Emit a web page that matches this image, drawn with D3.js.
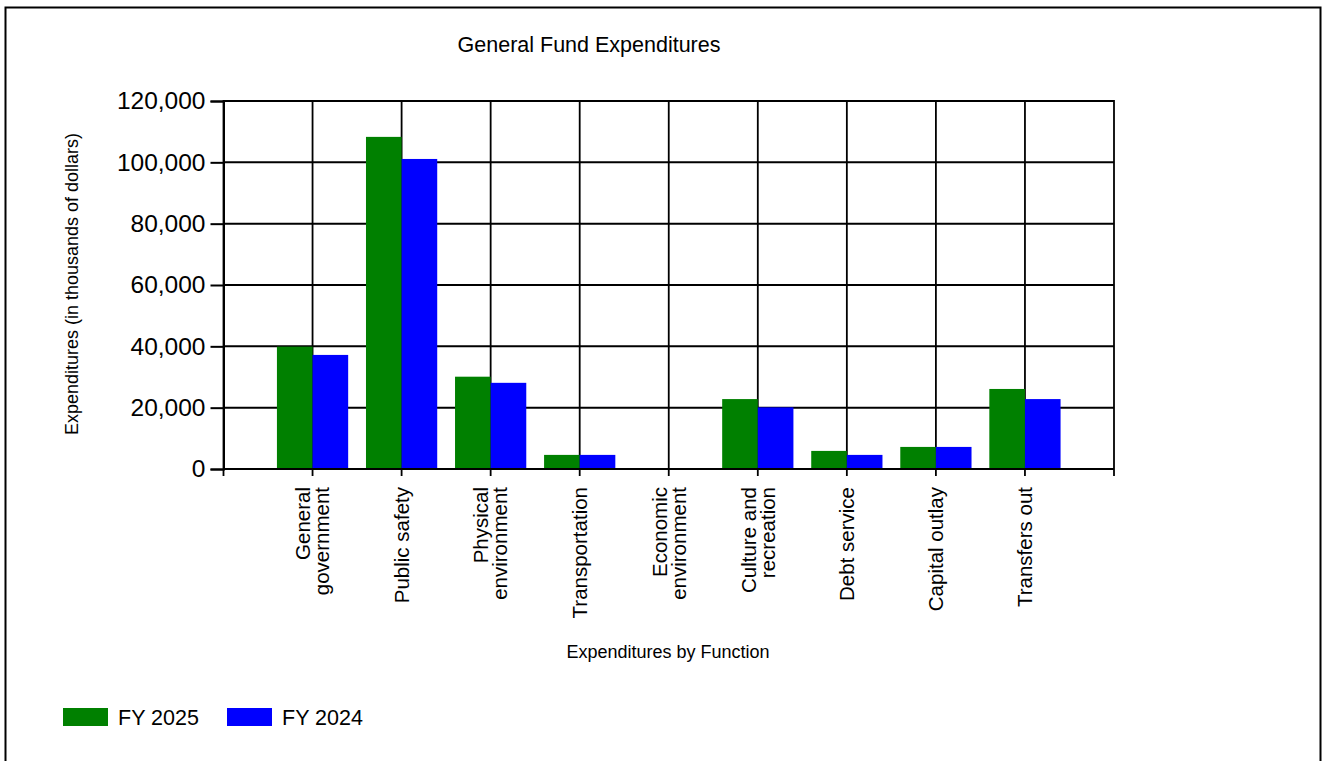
<!DOCTYPE html>
<html>
<head>
<meta charset="utf-8">
<title>General Fund Expenditures</title>
<script src="https://d3js.org/d3.v7.min.js"></script>
<style>
body { margin: 0; background: #fff; }
text { font-family: "Liberation Sans", Arial, sans-serif; fill: #000; }
</style>
</head>
<body>
<div id="chart"></div>
<script>
// data (thousands of dollars)
var categories = ["General government", "Public safety", "Physical environment", "Transportation",
                  "Economic environment", "Culture and recreation", "Debt service", "Capital outlay", "Transfers out"];
var labelLines = [["General", "government"], ["Public safety"], ["Physical", "environment"], ["Transportation"],
                  ["Economic", "environment"], ["Culture and", "recreation"], ["Debt service"], ["Capital outlay"], ["Transfers out"]];
var fy2025 = [39900, 108300, 30100, 4600, 0, 22800, 5900, 7200, 26100];
var fy2024 = [37200, 101100, 28100, 4600, 0, 20100, 4600, 7200, 22800];
var seriesNames = ["FY 2025", "FY 2024"];
var seriesColors = ["#008000", "#0000ff"];
var yTicks = [0, 20000, 40000, 60000, 80000, 100000, 120000];

// note: "top" is taken by window.top, so plot edges get their own names
var width = 1322, height = 761,
    plotL = 223.5, plotR = 1114, plotT = 101, plotB = 469;

var svg = d3.select("#chart").append("svg").attr("width", width).attr("height", height);

// outer frame
svg.append("rect").attr("x", 5.5).attr("y", 7.5).attr("width", 1315).attr("height", 760)
   .attr("fill", "none").attr("stroke", "#000").attr("stroke-width", 2);

var x = d3.scalePoint().domain(categories).range([plotL, plotR]).padding(1),
    y = d3.scaleLinear().domain([0, 120000]).range([plotB, plotT]),
    step = x.step(),
    barW = step * 0.4;

// grid: horizontal at every tick, vertical at each category centre plus edges
var vLines = [plotL].concat(categories.map(function(c) { return x(c); })).concat([plotR]);

svg.append("g").selectAll("line").data(yTicks).enter().append("line")
   .attr("x1", plotL).attr("x2", plotR)
   .attr("y1", function(d) { return y(d); }).attr("y2", function(d) { return y(d); })
   .attr("stroke", "#000").attr("stroke-width", 2);

svg.append("g").selectAll("line").data(vLines).enter().append("line")
   .attr("x1", function(d) { return d; }).attr("x2", function(d) { return d; })
   .attr("y1", plotT - 1).attr("y2", plotB + 7)
   .attr("stroke", "#000").attr("stroke-width", 1.8);

// bars
var rows = categories.map(function(c, i) { return {cat: c, vals: [fy2025[i], fy2024[i]]}; });
var grp = svg.append("g").selectAll("g").data(rows).enter().append("g");
grp.selectAll("rect").data(function(d) {
      return d.vals.map(function(v, k) { return {cat: d.cat, v: v, k: k}; });
   }).enter().append("rect")
   .attr("x", function(d) { return x(d.cat) - barW + d.k * barW; })
   .attr("y", function(d) { return y(d.v); })
   .attr("width", barW)
   .attr("height", function(d) { return plotB - y(d.v); })
   .attr("fill", function(d) { return seriesColors[d.k]; });

// baseline on top
svg.append("line").attr("x1", plotL).attr("x2", plotR).attr("y1", plotB).attr("y2", plotB)
   .attr("stroke", "#000").attr("stroke-width", 2.2);

// y axis
var yAxis = svg.append("g").attr("transform", "translate(" + plotL + ",0)")
   .call(d3.axisLeft(y).tickValues(yTicks).tickSize(13).tickPadding(5).tickFormat(d3.format(",")));
yAxis.select(".domain").attr("stroke", "#000").attr("stroke-width", 2);
yAxis.selectAll(".tick line").attr("stroke", "#000").attr("stroke-width", 2);
yAxis.selectAll(".tick text").style("font-size", "24.5px").attr("fill", "#000");

// category labels, rotated
var cap = 20.5 * 0.716, lineH = 19;
var lab = svg.append("g").selectAll("g").data(categories).enter().append("g")
   .attr("transform", function(d) { return "translate(" + x(d) + ",487) rotate(-90)"; });
lab.each(function(d, i) {
   var lines = labelLines[i], n = lines.length;
   d3.select(this).selectAll("text").data(lines).enter().append("text")
     .attr("x", 0)
     .attr("y", function(t, j) { return cap / 2 + (j - (n - 1) / 2) * lineH; })
     .attr("text-anchor", "end")
     .style("font-size", "20.5px")
     .text(function(t) { return t; });
});

// titles
svg.append("text").attr("x", 589).attr("y", 51.5).attr("text-anchor", "middle")
   .style("font-size", "21.5px").text("General Fund Expenditures");
svg.append("text").attr("x", 668).attr("y", 658).attr("text-anchor", "middle")
   .style("font-size", "18px").text("Expenditures by Function");
svg.append("text").attr("transform", "translate(78,284) rotate(-90)").attr("text-anchor", "middle")
   .style("font-size", "18px").text("Expenditures (in thousands of dollars)");

// legend
var legX = [63, 227];
var leg = svg.append("g").selectAll("g").data(seriesNames).enter().append("g")
   .attr("transform", function(d, i) { return "translate(" + legX[i] + ",708)"; });
leg.append("rect").attr("width", 45).attr("height", 18)
   .attr("fill", function(d, i) { return seriesColors[i]; });
leg.append("text").attr("x", 55).attr("y", 16.5).style("font-size", "21.5px")
   .text(function(d) { return d; });
</script>
</body>
</html>
